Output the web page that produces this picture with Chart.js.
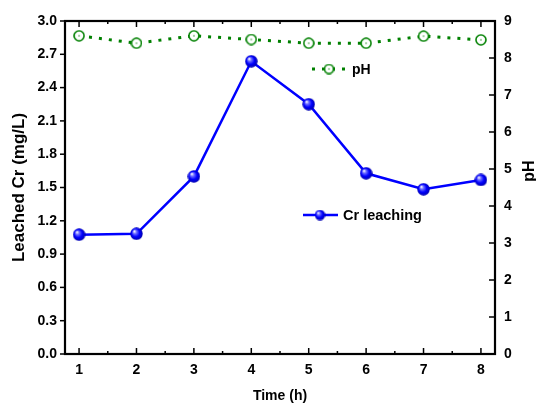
<!DOCTYPE html>
<html>
<head>
<meta charset="utf-8">
<script src="https://cdn.jsdelivr.net/npm/chart.js@4"></script>
<style>
  html, body { margin: 0; padding: 0; background: #fff; }
</style>
</head>
<body>
<canvas id="chart" width="536" height="403"></canvas>
<script>
// data
const hours = [1, 2, 3, 4, 5, 6, 7, 8];
const crLeach = [1.075, 1.083, 1.60, 2.637, 2.25, 1.628, 1.484, 1.568];
const phVals = [8.60, 8.40, 8.60, 8.50, 8.40, 8.40, 8.59, 8.49];
const crTicks = [0, 0.3, 0.6, 0.9, 1.2, 1.5, 1.8, 2.1, 2.4, 2.7, 3.0];
const phTicks = [0, 1, 2, 3, 4, 5, 6, 7, 8, 9];

const BLUE = '#0000ff';
const GREEN = '#008000';
const FONT = 'Liberation Sans, Arial, sans-serif';

// ── marker images ─────────────────────────────────────
function sphere(d) {
  const c = document.createElement('canvas');
  c.width = d; c.height = d;
  const g = c.getContext('2d');
  const r = d / 2;
  const grad = g.createRadialGradient(r - r * 0.35, r - r * 0.4, 0.3, r, r, r);
  grad.addColorStop(0, '#ffffff');
  grad.addColorStop(0.25, '#7070ff');
  grad.addColorStop(0.6, '#0000ff');
  grad.addColorStop(1, '#0000a8');
  g.fillStyle = grad;
  g.beginPath(); g.arc(r, r, r - 0.3, 0, Math.PI * 2); g.fill();
  return c;
}
function ring(d) {
  const c = document.createElement('canvas');
  c.width = d; c.height = d;
  const g = c.getContext('2d');
  const r = d / 2;
  g.strokeStyle = GREEN; g.lineWidth = 1.6;
  g.fillStyle = '#fff';
  g.beginPath(); g.arc(r, r, r - 1, 0, Math.PI * 2); g.fill(); g.stroke();
  g.fillStyle = GREEN;
  g.fillRect(r - 0.6, r - 0.6, 1.2, 1.2);
  return c;
}
const crPoint = sphere(13);
const phPoint = ring(12);
const crLegPoint = sphere(11);
const phLegPoint = ring(11);

// ── frame, inward ticks, legend, right title ──────────
const frame = {
  id: 'frame',
  beforeDatasetsDraw(chart) {
    const { ctx, chartArea: a, scales } = chart;
    const seg = (x1, y1, x2, y2) => { ctx.beginPath(); ctx.moveTo(x1, y1); ctx.lineTo(x2, y2); ctx.stroke(); };
    ctx.save();
    ctx.strokeStyle = '#000';
    ctx.lineWidth = 1.5;
    hours.forEach((h, i) => {
      const px = scales.x.getPixelForValue(h);
      seg(px, a.bottom, px, a.bottom - 6);
      seg(px, a.top, px, a.top + 6);
      if (i < hours.length - 1) {
        const pm = scales.x.getPixelForValue(h + 0.5);
        seg(pm, a.bottom, pm, a.bottom - 3);
        seg(pm, a.top, pm, a.top + 3);
      }
    });
    crTicks.forEach(v => {
      const py = scales.y.getPixelForValue(v);
      seg(a.left - 5, py, a.left, py);
    });
    phTicks.forEach(v => {
      const py = scales.y1.getPixelForValue(v);
      seg(a.right - 6, py, a.right, py);
    });
    ctx.lineWidth = 2.2;
    ctx.strokeRect(a.left, a.top, a.right - a.left, a.bottom - a.top);
    ctx.restore();
  },
  afterDraw(chart) {
    const { ctx, chartArea: a } = chart;
    ctx.save();
    ctx.font = 'bold 14px ' + FONT;
    ctx.fillStyle = '#000';
    ctx.textBaseline = 'middle';

    // pH legend
    let y = a.top + 48;
    ctx.strokeStyle = GREEN; ctx.lineWidth = 3; ctx.setLineDash([3, 7]);
    ctx.beginPath(); ctx.moveTo(a.left + 247, y); ctx.lineTo(a.left + 284, y); ctx.stroke();
    ctx.setLineDash([]);
    ctx.drawImage(phLegPoint, a.left + 264 - 5.5, y - 5.5);
    ctx.textAlign = 'left';
    ctx.fillText('pH', a.left + 287, y + 1);

    // Cr legend
    y = a.top + 194;
    ctx.strokeStyle = BLUE; ctx.lineWidth = 2.5;
    ctx.beginPath(); ctx.moveTo(a.left + 238, y); ctx.lineTo(a.left + 273, y); ctx.stroke();
    ctx.drawImage(crLegPoint, a.left + 255 - 5.5, y - 5.5);
    ctx.font = 'bold 14.5px ' + FONT;
    ctx.fillText('Cr leaching', a.left + 278, y + 1);

    // right axis title, reading bottom to top
    ctx.font = 'bold 16px ' + FONT;
    ctx.translate(530, 171);
    ctx.rotate(-Math.PI / 2);
    ctx.textAlign = 'center';
    ctx.fillText('pH', 0, 0);
    ctx.restore();
  }
};

Chart.defaults.font.family = FONT;
Chart.defaults.font.weight = 'bold';
Chart.defaults.font.size = 14;
Chart.defaults.color = '#000';

new Chart(document.getElementById('chart').getContext('2d'), {
  type: 'line',
  data: {
    datasets: [
      {
        label: 'Cr leaching',
        data: hours.map((h, i) => ({ x: h, y: crLeach[i] })),
        yAxisID: 'y',
        borderColor: BLUE,
        borderWidth: 2.5,
        pointStyle: crPoint,
        pointRadius: 6,
        tension: 0,
        clip: false
      },
      {
        label: 'pH',
        data: hours.map((h, i) => ({ x: h, y: phVals[i] })),
        yAxisID: 'y1',
        borderColor: GREEN,
        borderWidth: 3,
        borderDash: [3, 7],
        pointStyle: phPoint,
        pointRadius: 6,
        tension: 0,
        clip: false
      }
    ]
  },
  options: {
    responsive: false,
    animation: false,
    devicePixelRatio: 1,
    layout: { padding: { top: 21, left: 0, right: 0, bottom: 0 } },
    plugins: { legend: { display: false }, tooltip: { enabled: false } },
    scales: {
      x: {
        type: 'linear',
        min: 0.755,
        max: 8.245,
        grid: { display: false, drawTicks: false },
        border: { display: false },
        afterBuildTicks: s => { s.ticks = hours.map(v => ({ value: v })); },
        afterFit: s => { s.height = 49; },
        ticks: { padding: 8 },
        title: {
          display: true,
          text: 'Time (h)',
          font: { size: 14, weight: 'bold', lineHeight: 1 },
          padding: 0
        }
      },
      y: {
        position: 'left',
        min: 0,
        max: 3,
        grid: { display: false, drawTicks: false },
        border: { display: false },
        afterBuildTicks: s => { s.ticks = crTicks.map(v => ({ value: v })); },
        afterFit: s => { s.width = 65; },
        ticks: { padding: 8, callback: v => Number(v).toFixed(1) },
        title: {
          display: true,
          text: 'Leached Cr (mg/L)',
          font: { size: 17, weight: 'bold', lineHeight: 1.2 },
          padding: { top: 9, bottom: 0 }
        }
      },
      y1: {
        position: 'right',
        min: 0,
        max: 9,
        grid: { display: false, drawTicks: false },
        border: { display: false },
        afterBuildTicks: s => { s.ticks = phTicks.map(v => ({ value: v })); },
        afterFit: s => { s.width = 41; },
        ticks: { padding: 9 }
      }
    }
  },
  plugins: [frame]
});
</script>
</body>
</html>
